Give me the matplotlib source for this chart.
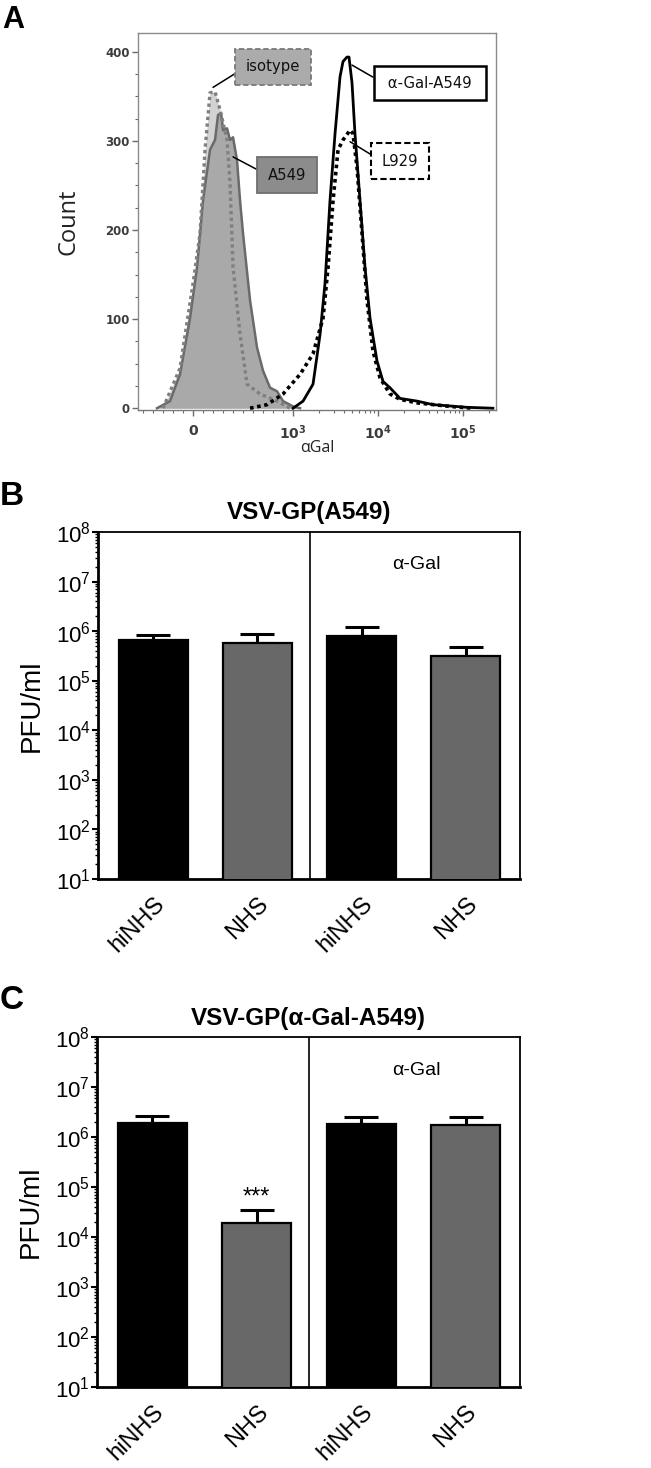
import numpy as np
import matplotlib
matplotlib.use("Agg")
import matplotlib.pyplot as plt
from matplotlib.ticker import FixedLocator, LogLocator, NullFormatter

# ---------------- Panel A data (flow cytometry histograms) ----------------
iso_x = [-300, -130, 0, 70, 120, 170, 220, 270, 340, 370, 400, 470, 540, 670, 840, 970]
iso_y = [0, 45, 140, 196, 290, 354, 355, 335, 301, 252, 158, 83, 27, 16, 8, 0]

a549_x = [-360, -230, -130, -30, 40, 100, 170, 220, 250, 280, 300, 340, 370, 400, 440,
          470, 500, 570, 640, 700, 770, 840, 900, 1000, 1209]
a549_y = [0, 8, 38, 101, 158, 233, 290, 301, 329, 331, 312, 314, 301, 304, 278,
          233, 196, 121, 68, 42, 23, 19, 8, 2, 0]

agal_x = [1000, 1312, 1718, 2080, 2377, 2722, 3119, 3573, 3874, 4316, 4556, 4943, 5357,
          6138, 7031, 8054, 9730, 11460, 13830, 18150, 28770, 44360, 111400, 225400]
agal_y = [0, 8, 27, 83, 140, 233, 308, 372, 389, 394, 394, 365, 308,
          233, 158, 101, 53, 30, 23, 11, 8, 4, 1, 0]

l929_x = [570, 740, 900, 1209, 1718, 2253, 2581, 2956, 3383, 3874, 4688, 5081, 5663,
          6486, 7430, 8733, 10570, 13830, 18150, 28770, 70310, 131200]
l929_y = [0, 4, 16, 38, 61, 101, 158, 233, 290, 301, 312, 308, 270,
          196, 121, 64, 34, 16, 10, 6, 2, 0]

# ---------------- Panels B / C data ----------------
groups = ["hiNHS", "NHS", "hiNHS", "NHS"]
b_vals = [6.6e5, 5.8e5, 8.0e5, 3.2e5]
b_err_top = [8.4e5, 8.8e5, 1.22e6, 4.7e5]
c_vals = [1.88e6, 1.94e4, 1.82e6, 1.71e6]
c_err_top = [2.63e6, 3.47e4, 2.5e6, 2.5e6]
b_title = "VSV-GP(A549)"
c_title = "VSV-GP(\u03b1-Gal-A549)"

W, H = 651, 1468
fig = plt.figure(figsize=(W / 100, H / 100), dpi=100)

# ================= Panel A =================
axA = fig.add_axes([138 / W, 1 - 410 / H, 358 / W, 377 / H])
axA.set_xscale("symlog", linthresh=1000, linscale=1.06)
axA.set_xlim(-550, 2.45e5)
axA.set_ylim(-2, 421)

axA.fill_between(iso_x, iso_y, 0, color="#d2d2d2", lw=0, zorder=1)
axA.fill_between(a549_x, a549_y, 0, color="#a9a9a9", lw=0, zorder=2)
axA.plot(a549_x, a549_y, color="#6a6a6a", lw=1.8, zorder=3)
axA.plot(iso_x, iso_y, color="#7f7f7f", lw=2.4, ls=(0, (1, 1)), zorder=4)
axA.plot(agal_x, agal_y, color="black", lw=2.0, zorder=5)
axA.plot(l929_x, l929_y, color="black", lw=2.6, ls=(0, (1, 1)), zorder=6)

for s in axA.spines.values():
    s.set_color("#8a8a8a")
    s.set_linewidth(1.0)
axA.spines["bottom"].set_color("#7a7a7a")

axA.set_yticks([0, 100, 200, 300, 400])
axA.yaxis.set_minor_locator(FixedLocator(np.arange(0, 421, 25)))
axA.set_yticklabels(["0", "100", "200", "300", "400"], fontsize=8.5,
                    fontweight="bold", color="#3c3c3c", family="DejaVu Sans")
axA.set_xticks([0, 1e3, 1e4, 1e5])
axA.set_xticklabels(["0", r"$\mathbf{10^{3}}$", r"$\mathbf{10^{4}}$", r"$\mathbf{10^{5}}$"],
                    fontsize=10, color="#3c3c3c", fontweight="bold")
for lab in axA.get_xticklabels():
    lab.set_math_fontfamily("dejavusans")
minors = list(range(-500, 1000, 100))
for dec in [1e3, 1e4, 1e5]:
    minors += [k * dec for k in range(2, 10)]
axA.xaxis.set_minor_locator(FixedLocator([m for m in minors if m <= 2.4e5 and m != 0]))
axA.xaxis.set_minor_formatter(NullFormatter())
axA.tick_params(axis="both", which="major", direction="out", length=4, width=1,
                color="#6a6a6a", pad=2)
axA.tick_params(axis="both", which="minor", direction="out", length=2.5, width=0.8,
                color="#6a6a6a")
axA.tick_params(axis="x", which="major", pad=6)
axA.set_xlabel("\u03b1Gal", fontsize=11.5, family="Open Sans", color="#222222", labelpad=-2)
axA.set_ylabel("Count", fontsize=17, family="Open Sans", color="#222222", labelpad=18)

def box_label(text, xy, xytext, fc, ec, ls, lw, pad):
    axA.annotate(text, xy=xy, xycoords="data", xytext=xytext, textcoords="axes fraction",
                 ha="center", va="center", fontsize=10.7, family="DejaVu Sans", color="#111111",
                 bbox=dict(boxstyle="square,pad=%.2f" % pad, fc=fc, ec=ec, ls=ls, lw=lw),
                 arrowprops=dict(arrowstyle="-", color="black", lw=1.1,
                                 shrinkA=0, shrinkB=0, relpos=(0, 0.5)),
                 zorder=10)

box_label("isotype", (200, 360), (0.377, 0.910), "#ababab", "#7a7a7a", (0, (3, 1.5)), 1.3, 0.7)
box_label("A549", (400, 282), (0.416, 0.623), "#8c8c8c", "#707070", "-", 1.3, 0.7)
box_label(" \u03b1-Gal-A549 ", (4943, 385), (0.816, 0.867), "white", "black", "-", 1.8, 0.65)
box_label("L929", (4688, 299), (0.732, 0.660), "white", "black", (0, (3, 1.5)), 1.5, 0.7)

# ================= Panels B and C =================
def bar_panel(rect, vals, err_top, title, stars=False):
    ax = fig.add_axes(rect)
    ax.set_yscale("log")
    x = np.arange(len(groups))
    colors = ["black", "#686868", "black", "#686868"]
    yerr = [np.zeros(len(vals)), np.array(err_top) - np.array(vals)]
    ax.errorbar(x, vals, yerr=yerr, fmt="none", ecolor="black", elinewidth=2.2,
                capsize=12.5, capthick=2.2, zorder=2)
    ax.bar(x, vals, width=0.66, color=colors, edgecolor="black", lw=1.6, zorder=3)
    ax.set_ylim(10, 1e8)
    ax.set_xlim(-0.53, 3.52)
    ax.axvline(1.5, color="black", lw=1.2)
    ax.set_xticks(x)
    ax.set_xticklabels(groups, rotation=45, ha="right", rotation_mode="anchor",
                       fontsize=17, family="Liberation Sans")
    ax.tick_params(axis="x", length=0, pad=10)
    ax.yaxis.set_minor_locator(LogLocator(base=10, subs=np.arange(2, 10), numticks=20))
    ax.yaxis.set_minor_formatter(NullFormatter())
    decs = list(range(1, 9))
    ax.set_yticks([10.0 ** d for d in decs])
    ax.set_yticklabels([r"$10^{%d}$" % d for d in decs], fontsize=16)
    for lab in ax.get_yticklabels():
        lab.set_math_fontfamily("custom")
    ax.tick_params(axis="y", which="major", length=4, width=1.5, pad=1)
    ax.tick_params(axis="y", which="minor", length=2.5, width=1)
    for side in ["left", "bottom"]:
        ax.spines[side].set_linewidth(2)
    for side in ["top", "right"]:
        ax.spines[side].set_linewidth(1.3)
    ax.set_ylabel("PFU/ml", fontsize=20, family="Liberation Sans", labelpad=8)
    ax.set_title(title, fontsize=17.5, fontweight="bold", family="Liberation Sans", pad=9)
    ax.text(0.755, 0.905, "\u03b1-Gal", transform=ax.transAxes, fontsize=14,
            family="Liberation Sans", ha="center", va="center")
    if stars:
        ax.annotate("***", xy=(1, err_top[1]), xytext=(0, 1), textcoords="offset points",
                    ha="center", va="bottom", fontsize=17, family="Liberation Sans")
    return ax

plt.rcParams["mathtext.fontset"] = "custom"
plt.rcParams["mathtext.rm"] = "Liberation Sans"
plt.rcParams["mathtext.it"] = "Liberation Sans:italic"
plt.rcParams["mathtext.bf"] = "Liberation Sans:bold"

bar_panel([98 / W, 1 - 879 / H, 422 / W, 347 / H], b_vals, b_err_top, b_title)
bar_panel([97 / W, 1 - 1387 / H, 423 / W, 350 / H], c_vals, c_err_top, c_title, stars=True)

# Panel letters
fig.text(2 / W, 1 - 5 / H, "A", fontsize=22, fontweight="bold", family="Liberation Sans",
         ha="left", va="top")
fig.text(0 / W, 1 - 481 / H, "B", fontsize=24, fontweight="bold", family="Liberation Sans",
         ha="left", va="top")
fig.text(0 / W, 1 - 985 / H, "C", fontsize=24, fontweight="bold", family="Liberation Sans",
         ha="left", va="top")

fig.savefig("out.png", dpi=100)
